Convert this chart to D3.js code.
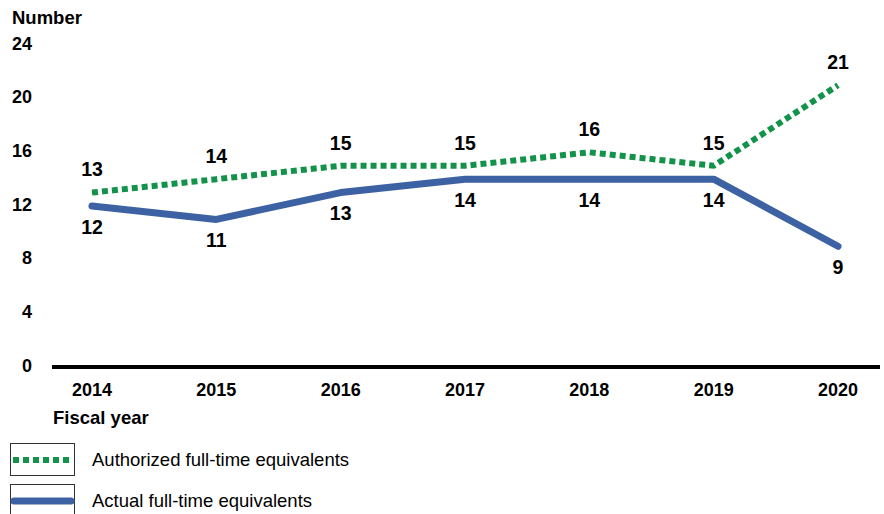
<!DOCTYPE html>
<html><head><meta charset="utf-8">
<script src="https://cdn.jsdelivr.net/npm/d3@7"></script>
<style>body{margin:0;background:#fff}svg{display:block}text{font-family:"Liberation Sans",Arial,sans-serif}</style>
</head><body><svg id="c" width="884" height="514"></svg>
<script>
const years = ["2014","2015","2016","2017","2018","2019","2020"];
const authorized = [13,14,15,15,16,15,21];
const actual = [12,11,13,14,14,14,9];
const yTicks = [0,4,8,12,16,20,24];
const seriesNames = ["Authorized full-time equivalents","Actual full-time equivalents"];
const colors = {auth:"#13934a", act:"#3d62a4"};

const svg = d3.select("#c");
const x = d3.scalePoint().domain(years).range([92,838]);
const y = d3.scaleLinear().domain([0,24]).range([367,45]);

// y tick labels
svg.append("g").selectAll("text").data(yTicks).join("text")
  .attr("x",32).attr("y",d=>y(d)-1.5).attr("dy","0.35em")
  .attr("text-anchor","end").attr("font-weight","bold").attr("font-size",18)
  .text(d=>d);
svg.append("text").attr("x",12).attr("y",24).attr("font-weight","bold").attr("font-size",18.5).text("Number");

// axis line
svg.append("line").attr("x1",52).attr("x2",880).attr("y1",y(0)).attr("y2",y(0))
  .attr("stroke","#000").attr("stroke-width",4);

// x labels
svg.append("g").selectAll("text").data(years).join("text")
  .attr("x",d=>x(d)).attr("y",396).attr("text-anchor","middle")
  .attr("font-weight","bold").attr("font-size",18).text(d=>d);
svg.append("text").attr("x",53).attr("y",424).attr("font-weight","bold").attr("font-size",18.5).text("Fiscal year");

const line = d3.line().x((d,i)=>x(years[i])).y(d=>y(d));
svg.append("path").datum(actual).attr("d",line).attr("fill","none")
  .attr("stroke",colors.act).attr("stroke-width",7).attr("stroke-linecap","round").attr("stroke-linejoin","round");
svg.append("path").datum(authorized).attr("d",line).attr("fill","none")
  .attr("stroke",colors.auth).attr("stroke-width",6).attr("stroke-dasharray","6,4");

// labels
svg.append("g").selectAll("text").data(authorized).join("text")
  .attr("x",(d,i)=>x(years[i])).attr("y",d=>y(d)-23).attr("dy","0.35em")
  .attr("text-anchor","middle").attr("font-weight","bold").attr("font-size",19.5).text(d=>d);
svg.append("g").selectAll("text").data(actual).join("text")
  .attr("x",(d,i)=>x(years[i])).attr("y",d=>y(d)+21).attr("dy","0.35em")
  .attr("text-anchor","middle").attr("font-weight","bold").attr("font-size",19.5).text(d=>d);

// legend
const lg = svg.append("g");
seriesNames.forEach((name,i)=>{
  const top = 443 + i*41;
  lg.append("rect").attr("x",10.5).attr("y",top+0.5).attr("width",64).attr("height",32)
    .attr("fill","#fff").attr("stroke","#333").attr("stroke-width",1);
  const ly = top+17;
  if(i===0){
    lg.append("line").attr("x1",13).attr("x2",72).attr("y1",ly).attr("y2",ly)
      .attr("stroke",colors.auth).attr("stroke-width",6).attr("stroke-dasharray","6,4");
  } else {
    lg.append("line").attr("x1",14).attr("x2",71).attr("y1",ly).attr("y2",ly)
      .attr("stroke",colors.act).attr("stroke-width",7).attr("stroke-linecap","round");
  }
  lg.append("text").attr("x",92).attr("y",ly).attr("dy","0.35em").attr("font-size",18.5).text(name);
});
</script></body></html>
